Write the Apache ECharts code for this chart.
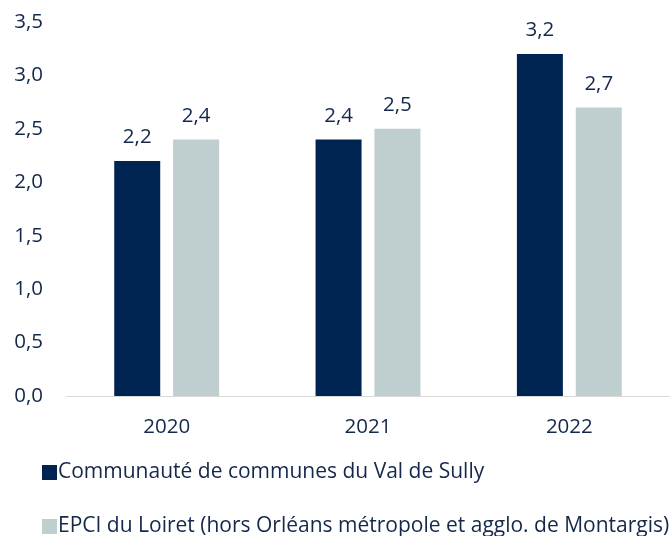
<!DOCTYPE html>
<html>
<head>
<meta charset="utf-8">
<script src="https://cdn.jsdelivr.net/npm/echarts@6/dist/echarts.min.js"></script>
<style>
  html, body { margin: 0; padding: 0; background: #ffffff; }
  #chart { width: 670px; height: 536px; }
</style>
</head>
<body>
<div id="chart"></div>
<script>
const years = ['2020', '2021', '2022'];
const valSully = [2.2, 2.4, 3.2];
const valLoiret = [2.4, 2.5, 2.7];
const seriesNames = [
  'Communauté de communes du Val de Sully',
  'EPCI du Loiret (hors Orléans métropole et agglo. de Montargis)'
];

const textColor = '#14284B';
const font = 'Open Sans';
const fs = 20.5;
const fmt = v => v.toFixed(1).replace('.', ',');

// one legend block per series, stacked in two rows
const legendRow = (name, top) => ({
  orient: 'horizontal',
  left: 37,
  top: top,
  itemWidth: 15,
  itemHeight: 15,
  icon: 'rect',
  textStyle: { fontFamily: font, fontSize: 21, color: textColor, padding: [0, 0, 0, -4] },
  data: [name]
});

const chart = echarts.init(document.getElementById('chart'), null, { renderer: 'canvas' });
chart.setOption({
  animation: false,
  textStyle: { fontFamily: font, color: textColor },
  grid: { left: 66, top: 22, width: 607, height: 374, containLabel: false },
  legend: [legendRow(seriesNames[0], 457), legendRow(seriesNames[1], 511)],
  xAxis: {
    type: 'category',
    data: years,
    axisLine: { lineStyle: { color: '#D9D9D9', width: 1 } },
    axisTick: { show: false },
    axisLabel: { fontFamily: font, fontSize: fs, color: textColor, margin: 21 }
  },
  yAxis: {
    type: 'value',
    min: 0,
    max: 3.5,
    interval: 0.5,
    splitLine: { show: false },
    axisLine: { show: false },
    axisTick: { show: false },
    axisLabel: { fontFamily: font, fontSize: fs, color: textColor, margin: 23, formatter: fmt }
  },
  series: [
    {
      name: seriesNames[0],
      type: 'bar',
      data: valSully,
      barWidth: 46,
      barGap: '28%',
      itemStyle: { color: '#002452' },
      label: { show: true, position: 'top', distance: 13, fontFamily: font, fontSize: fs, color: textColor, formatter: p => fmt(p.value) }
    },
    {
      name: seriesNames[1],
      type: 'bar',
      data: valLoiret,
      barWidth: 46,
      itemStyle: { color: '#BFCFCF' },
      label: { show: true, position: 'top', distance: 13, fontFamily: font, fontSize: fs, color: textColor, formatter: p => fmt(p.value) }
    }
  ]
});
</script>
</body>
</html>
